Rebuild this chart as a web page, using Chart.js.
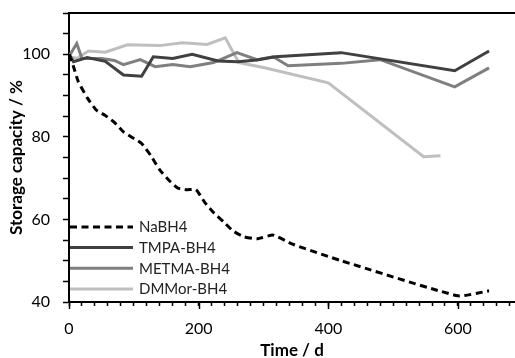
<!DOCTYPE html>
<html>
<head>
<meta charset="utf-8">
<script src="https://cdn.jsdelivr.net/npm/chart.js@4/dist/chart.umd.min.js"></script>
<style>
html,body{margin:0;padding:0;background:#fff;overflow:hidden;}
#wrap{width:515px;height:358px;position:relative;}
</style>
</head>
<body>
<div id="wrap"><canvas id="c" width="515" height="358"></canvas></div>
<script>
// ---- data ----
const seriesNames = ["NaBH4", "TMPA-BH4", "METMA-BH4", "DMMor-BH4"];

const naDays = [0, 7, 14, 28, 42, 56, 70, 84, 98, 112, 126, 140, 154, 168, 182, 196, 210, 224, 238, 253, 270, 290, 315, 345, 420, 600, 648];
const naVals = [100, 97, 93.5, 89.5, 86.5, 85.2, 83.5, 81.2, 79.8, 78.4, 75.5, 72, 69.5, 67.6, 67.2, 67.2, 64, 61.5, 59.5, 57.2, 55.8, 55.3, 56.2, 54, 50, 41.5, 42.7];

const tmpaDays = [0, 7, 28, 56, 84, 112, 130, 160, 190, 230, 260, 290, 318, 420, 595, 648];
const tmpaVals = [100, 98.2, 99.2, 98.3, 95, 94.7, 99.4, 99, 100, 98.4, 98.2, 98.6, 99.4, 100.4, 96, 100.8];

const metmaDays = [0, 12, 20, 50, 70, 84, 110, 133, 160, 187, 223, 259, 290, 315, 338, 420, 480, 595, 648];
const metmaVals = [99.5, 102.6, 99, 99, 98.5, 97.5, 98.7, 97, 97.5, 97, 98, 100.4, 98.7, 99.4, 97.2, 97.8, 98.7, 92.1, 96.7];

const dmmDays = [0, 12, 30, 56, 90, 140, 175, 213, 241, 262, 300, 400, 547, 573];
const dmmVals = [99.5, 99, 100.8, 100.5, 102.3, 102.1, 102.8, 102.4, 104, 98, 96.8, 93.1, 75.2, 75.4];

const xMin = 0, xMax = 688, xMajorStep = 200, xMinorStep = 20;
const yMin = 40, yMax = 110, yMajorStep = 20, yMinorStep = 5;
const xTitle = "Time / d";
const yTitle = "Storage capacity / %";

const colors = ["#000000", "#404040", "#7f7f7f", "#bfbfbf"];

function pts(xs, ys){ return xs.map((x,i)=>({x:x, y:ys[i]})); }

const FONT = "Lato, 'Open Sans', sans-serif";

const customPlugin = {
  id: 'custom',
  afterDraw(chart){
    const ctx = chart.ctx;
    const ca = chart.chartArea;
    const xs = chart.scales.x;
    ctx.save();
    // top border
    ctx.strokeStyle = '#000';
    ctx.lineWidth = 2;
    ctx.beginPath();
    ctx.moveTo(ca.left - 1, ca.top);
    ctx.lineTo(ca.right, ca.top);
    ctx.stroke();
    // longer major x ticks
    ctx.lineWidth = 1.5;
    for (let v = xMin; v <= xMax; v += xMajorStep){
      const px = Math.round(xs.getPixelForValue(v)) + 0.5;
      ctx.beginPath();
      ctx.moveTo(px, ca.bottom);
      ctx.lineTo(px, ca.bottom + 7);
      ctx.stroke();
    }
    // legend
    const ds = chart.data.datasets;
    const rowH = 20.7;
    const baseY = ca.bottom - 13 - rowH * (ds.length - 1);
    ctx.font = "15px " + FONT;
    ctx.textBaseline = 'middle';
    ds.forEach((d, i) => {
      const y = baseY + i * rowH;
      ctx.strokeStyle = d.borderColor;
      ctx.lineWidth = d.borderWidth;
      ctx.setLineDash(d.borderDash || []);
      ctx.beginPath();
      ctx.moveTo(ca.left + 1, y);
      ctx.lineTo(ca.left + 64, y);
      ctx.stroke();
      ctx.setLineDash([]);
      ctx.fillStyle = '#222';
      ctx.fillText(d.label, ca.left + 70, y + 0.5);
    });
    ctx.restore();
  }
};

function zeroPad(s){ s.paddingTop = 0; s.paddingBottom = 0; s.paddingLeft = 0; s.paddingRight = 0; }

new Chart(document.getElementById('c'), {
  type: 'line',
  data: {
    datasets: [
      {label: seriesNames[0], data: pts(naDays, naVals), borderColor: colors[0], borderWidth: 3, borderDash: [7, 4.5], pointRadius: 0, tension: 0.15, fill: false},
      {label: seriesNames[1], data: pts(tmpaDays, tmpaVals), borderColor: colors[1], borderWidth: 3, pointRadius: 0, tension: 0, fill: false},
      {label: seriesNames[2], data: pts(metmaDays, metmaVals), borderColor: colors[2], borderWidth: 3, pointRadius: 0, tension: 0, fill: false},
      {label: seriesNames[3], data: pts(dmmDays, dmmVals), borderColor: colors[3], borderWidth: 3, pointRadius: 0, tension: 0, fill: false}
    ]
  },
  options: {
    responsive: false,
    animation: false,
    devicePixelRatio: 1,
    layout: {padding: {top: 13, right: 0, left: 0, bottom: 0}},
    plugins: {legend: {display: false}, tooltip: {enabled: false}},
    scales: {
      x: {
        type: 'linear', min: xMin, max: xMax,
        afterFit(s){ s.height = 56; zeroPad(s); },
        grid: {drawOnChartArea: false, tickLength: 4, color: '#000', tickColor: '#000', tickWidth: 1.5},
        border: {display: true, color: '#000', width: 2},
        ticks: {
          stepSize: xMinorStep, includeBounds: false, autoSkip: false, maxRotation: 0,
          padding: 13, color: '#000', font: {family: FONT, size: 16},
          callback: v => (v % xMajorStep === 0 ? String(v) : '')
        },
        title: {display: true, text: xTitle, color: '#000', font: {family: FONT, size: 17, weight: 'bold'}, padding: {top: 0, bottom: -3}}
      },
      y: {
        type: 'linear', min: yMin, max: yMax,
        afterFit(s){ s.width = 69; zeroPad(s); },
        grid: {drawOnChartArea: false, tickLength: 6, color: '#000', tickColor: '#000', tickWidth: 1.5},
        border: {display: true, color: '#000', width: 2},
        ticks: {
          stepSize: yMinorStep, includeBounds: false, autoSkip: false,
          padding: 13, color: '#000', font: {family: FONT, size: 16},
          callback: v => (v % yMajorStep === 0 ? String(v) : '')
        },
        title: {display: true, text: yTitle, color: '#000', font: {family: FONT, size: 17, weight: 'bold'}, padding: {top: 6, bottom: 0}}
      }
    }
  },
  plugins: [customPlugin]
});
</script>
</body>
</html>
